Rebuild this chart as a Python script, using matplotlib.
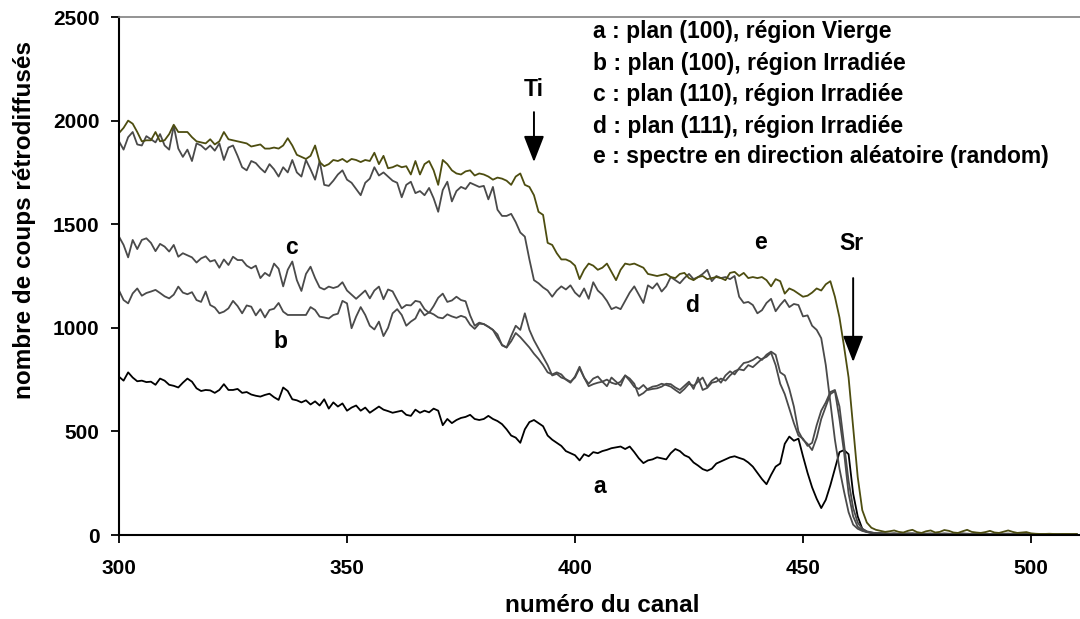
import numpy as np
import matplotlib
matplotlib.use("Agg")
import matplotlib.pyplot as plt

plt.rcParams['font.family'] = ['Liberation Sans', 'DejaVu Sans']
plt.rcParams['font.weight'] = 'bold'

# channel numbers
canal = np.arange(300, 511)

# e : random spectrum
e_random = [
    1940, 1965, 2000, 1985, 1945, 1900, 1905, 1905, 1945, 1900,
    1905, 1935, 1980, 1945, 1945, 1945, 1920, 1900, 1895, 1890,
    1910, 1885, 1900, 1945, 1910, 1905, 1900, 1895, 1890, 1875,
    1880, 1885, 1865, 1865, 1870, 1865, 1880, 1915, 1880, 1835,
    1825, 1815, 1830, 1880, 1800, 1780, 1790, 1810, 1805, 1815,
    1800, 1815, 1810, 1800, 1810, 1805, 1845, 1790, 1830, 1770,
    1775, 1785, 1775, 1780, 1740, 1805, 1740, 1790, 1805, 1760,
    1690, 1810, 1790, 1760, 1745, 1740, 1755, 1760, 1735, 1745,
    1740, 1730, 1715, 1725, 1720, 1710, 1690, 1730, 1745, 1690,
    1680, 1640, 1560, 1545, 1410, 1400, 1360, 1330, 1330, 1320,
    1300, 1235, 1280, 1310, 1300, 1280, 1290, 1310, 1270, 1230,
    1280, 1310, 1305, 1310, 1300, 1290, 1260, 1255, 1250, 1255,
    1260, 1245, 1240, 1260, 1265, 1240, 1230, 1245, 1250, 1235,
    1240, 1245, 1240, 1230, 1265, 1270, 1250, 1265, 1240, 1245,
    1240, 1245, 1230, 1200, 1235, 1225, 1165, 1190, 1180, 1165,
    1150, 1155, 1170, 1190, 1180, 1210, 1225, 1150, 1050, 910,
    760, 520, 280, 120, 60, 35, 25, 20, 15, 18,
    22, 15, 12, 20, 25, 14, 10, 18, 22, 12,
    15, 24, 20, 12, 10, 18, 25, 15, 12, 10,
    14, 20, 12, 10, 16, 22, 15, 10, 12, 14,
    8, 6, 5, 5, 6, 5, 4, 5, 5, 4, 5,
]

# d : plan (111), irradiated
d_111 = [
    1900, 1860, 1920, 1945, 1885, 1880, 1925, 1910, 1895, 1935,
    1880, 1860, 1975, 1865, 1825, 1860, 1805, 1890, 1880, 1860,
    1880, 1855, 1890, 1810, 1870, 1880, 1830, 1775, 1760, 1805,
    1795, 1770, 1750, 1790, 1765, 1730, 1775, 1750, 1810, 1750,
    1730, 1810, 1765, 1715, 1805, 1690, 1685, 1710, 1740, 1760,
    1715, 1700, 1670, 1640, 1700, 1720, 1775, 1735, 1750, 1730,
    1710, 1700, 1630, 1690, 1705, 1650, 1660, 1640, 1675, 1625,
    1560, 1665, 1705, 1610, 1660, 1680, 1670, 1700, 1690, 1680,
    1685, 1620, 1680, 1570, 1540, 1540, 1550, 1510, 1460, 1440,
    1330, 1230, 1215, 1195, 1180, 1150, 1180, 1200, 1185, 1205,
    1170, 1150, 1190, 1140, 1220, 1180, 1160, 1130, 1090, 1100,
    1090, 1130, 1170, 1200, 1160, 1120, 1205, 1190, 1215, 1175,
    1200, 1245, 1230, 1215, 1240, 1260, 1235, 1245, 1260, 1280,
    1225, 1250, 1240, 1245, 1235, 1250, 1150, 1120, 1125, 1110,
    1070, 1085, 1120, 1140, 1080, 1110, 1135, 1100, 1115, 1110,
    1055, 1060, 1010, 990, 950, 820, 640, 460, 320, 210,
    110, 50, 30, 20, 14, 10, 8, 10, 7, 6,
    8, 6, 5, 7, 9, 6, 5, 6, 8, 5,
    6, 7, 5, 4, 6, 8, 6, 5, 4, 5,
    6, 5, 4, 5, 6, 7, 5, 4, 5, 4,
    4, 3, 4, 3, 3, 4, 3, 3, 4, 3, 3,
]

# c : plan (110), irradiated
c_110 = [
    1440, 1400, 1340, 1424, 1380, 1424, 1432, 1410, 1370, 1405,
    1392, 1368, 1400, 1343, 1360, 1350, 1340, 1315, 1335, 1345,
    1320, 1327, 1290, 1330, 1303, 1343, 1327, 1327, 1300, 1287,
    1300, 1240, 1265, 1250, 1310, 1285, 1200, 1280, 1320, 1230,
    1178, 1260, 1295, 1240, 1195, 1185, 1199, 1192, 1199, 1220,
    1180, 1160, 1140, 1160, 1180, 1142, 1180, 1199, 1138, 1185,
    1176, 1134, 1094, 1110, 1108, 1130, 1125, 1090, 1072, 1105,
    1145, 1165, 1125, 1132, 1150, 1134, 1128, 1060, 1010, 1025,
    1018, 1005, 990, 952, 918, 905, 960, 1010, 990, 1070,
    990, 940, 900, 860, 820, 770, 778, 760, 752, 740,
    760, 805, 760, 730, 755, 765, 740, 718, 760, 740,
    720, 770, 745, 715, 705, 724, 700, 705, 708, 716,
    730, 728, 712, 700, 720, 740, 705, 760, 700, 710,
    735, 740, 755, 745, 770, 790, 800, 795, 820, 810,
    830, 850, 860, 880, 820, 730, 680, 610, 540, 480,
    465, 430, 445, 530, 600, 640, 690, 700, 620, 440,
    260, 130, 60, 30, 18, 12, 9, 7, 8, 6,
    7, 5, 6, 8, 5, 6, 7, 5, 4, 6,
    5, 7, 6, 4, 5, 6, 5, 4, 6, 5,
    4, 5, 6, 4, 5, 4, 5, 6, 4, 4,
    3, 4, 3, 3, 4, 3, 3, 4, 3, 3, 3,
]

# b : plan (100), irradiated
b_100 = [
    1180, 1134, 1118, 1166, 1190, 1155, 1168, 1175, 1183, 1168,
    1152, 1142, 1160, 1199, 1170, 1162, 1172, 1134, 1125, 1175,
    1110, 1098, 1070, 1078, 1094, 1130, 1105, 1070, 1108, 1102,
    1060, 1090, 1050, 1086, 1092, 1120, 1078, 1062, 1062, 1062,
    1062, 1062, 1100, 1086, 1054, 1050, 1045, 1062, 1068, 1130,
    1118, 998, 1054, 1100, 1062, 1010, 992, 1030, 960, 1000,
    1070, 1090, 1062, 1010, 1030, 1045, 1090, 1060, 1075, 1065,
    1050, 1046, 1065, 1055, 1048, 1058, 1050, 1015, 995, 1020,
    1018, 1005, 990, 968, 915, 905, 935, 975, 955, 930,
    905, 875, 850, 820, 785, 775, 785, 775, 750, 735,
    765, 812, 760, 718, 728, 735, 740, 750, 735, 728,
    740, 770, 755, 730, 672, 685, 705, 716, 720, 730,
    724, 716, 700, 685, 705, 730, 720, 740, 760, 715,
    745, 760, 735, 770, 790, 775, 805, 830, 835, 845,
    860, 845, 870, 885, 870, 785, 770, 705, 620, 500,
    460, 440, 410, 470, 560, 620, 680, 695, 560, 400,
    200, 90, 40, 22, 15, 10, 8, 6, 7, 5,
    6, 5, 7, 5, 4, 6, 5, 4, 5, 6,
    4, 5, 6, 4, 5, 4, 6, 5, 4, 5,
    4, 5, 4, 5, 4, 4, 5, 4, 3, 4,
    3, 3, 4, 3, 3, 3, 4, 3, 3, 3, 3,
]

# a : plan (100), virgin region
a_100 = [
    764, 745, 785, 760, 742, 745, 738, 740, 725, 755,
    745, 725, 720, 712, 735, 755, 740, 708, 695, 700,
    698, 686, 700, 728, 700, 700, 705, 686, 690, 678,
    672, 668, 676, 682, 665, 652, 712, 695, 655, 650,
    640, 650, 630, 645, 625, 655, 610, 640, 620, 635,
    600, 615, 625, 600, 615, 590, 605, 620, 605, 598,
    590, 595, 600, 580, 575, 605, 590, 600, 592, 610,
    600, 530, 560, 540, 555, 565, 570, 580, 560, 555,
    560, 575, 560, 550, 535, 510, 480, 470, 445, 510,
    545, 555, 540, 525, 480, 460, 445, 430, 405, 395,
    385, 360, 390, 380, 400, 395, 405, 411, 419, 423,
    427, 415, 427, 400, 370, 347, 360, 365, 375, 370,
    365, 395, 415, 405, 385, 375, 350, 335, 318, 310,
    320, 345, 355, 365, 375, 380, 372, 365, 350, 330,
    300, 270, 245, 290, 330, 345, 440, 475, 455, 465,
    380, 300, 230, 175, 130, 170, 240, 320, 400, 410,
    390, 200, 90, 30, 15, 12, 8, 6, 5, 6,
    5, 4, 6, 5, 4, 5, 4, 6, 5, 4,
    5, 4, 4, 5, 3, 4, 5, 4, 3, 4,
    4, 3, 4, 3, 4, 3, 3, 4, 3, 3,
    3, 3, 2, 3, 3, 2, 3, 3, 2, 3, 3,
]

legend_lines = [
    "a : plan (100), région Vierge",
    "b : plan (100), région Irradiée",
    "c : plan (110), région Irradiée",
    "d : plan (111), région Irradiée",
    "e : spectre en direction aléatoire (random)",
]

fig = plt.figure(figsize=(10.8, 6.19), dpi=100)
ax = fig.add_axes([0.1102, 0.1357, 0.8898, 0.8368])

gray = '#4a4a4a'
ax.plot(canal, a_100, color='black', lw=1.3)
ax.plot(canal, b_100, color=gray, lw=1.3)
ax.plot(canal, c_110, color=gray, lw=1.3)
ax.plot(canal, d_111, color=gray, lw=1.3)
ax.plot(canal, e_random, color='#4d4d10', lw=1.3)

ax.set_xlim(300, 510.75)
ax.set_ylim(0, 2500)
ax.set_xticks([300, 350, 400, 450, 500])
ax.set_yticks([0, 500, 1000, 1500, 2000, 2500])

for side in ['left', 'bottom']:
    ax.spines[side].set_linewidth(1.5)
    ax.spines[side].set_color('black')
ax.spines['right'].set_visible(False)
ax.spines['top'].set_color('#808080')
ax.spines['top'].set_linewidth(1.2)

ax.tick_params(axis='both', direction='out', length=6, width=1.3,
               labelsize=15)
ax.tick_params(axis='x', pad=11)
ax.tick_params(axis='y', pad=8)
for lab in ax.get_xticklabels() + ax.get_yticklabels():
    lab.set_fontweight('bold')

fig.text(602 / 1080, 1 - 605 / 619, "numéro du canal", ha='center',
         va='center', fontsize=17.5, fontweight='bold')
fig.text(25 / 1080, 1 - 220 / 619, "nombre de coups rétrodiffusés",
         ha='center', va='center', rotation=90, fontsize=17.5,
         fontweight='bold')

# legend text block
leg_y = [2428, 2278, 2128, 1974, 1829]
for txt, yy in zip(legend_lines, leg_y):
    ax.text(404, yy, txt, ha='left', va='center', fontsize=16.5,
            fontweight='bold')

# curve labels
lab_kw = dict(ha='center', va='center', fontsize=16.5, fontweight='bold')
ax.text(405.5, 232, "a", **lab_kw)
ax.text(335.3, 932, "b", **lab_kw)
ax.text(337.9, 1390, "c", **lab_kw)
ax.text(425.7, 1110, "d", **lab_kw)
ax.text(440.6, 1414, "e", **lab_kw)

# element markers with arrows
arrow = dict(arrowstyle='-|>,head_width=0.35,head_length=0.9', color='black',
             lw=1.4, mutation_scale=18, shrinkA=0, shrinkB=0)
ax.text(391, 2148, "Ti", **lab_kw)
ax.annotate("", xy=(391, 1800), xytext=(391, 2041), arrowprops=arrow)
ax.text(460.7, 1409, "Sr", **lab_kw)
ax.annotate("", xy=(461, 835), xytext=(461, 1240), arrowprops=arrow)

fig.savefig("out.png", dpi=100)
